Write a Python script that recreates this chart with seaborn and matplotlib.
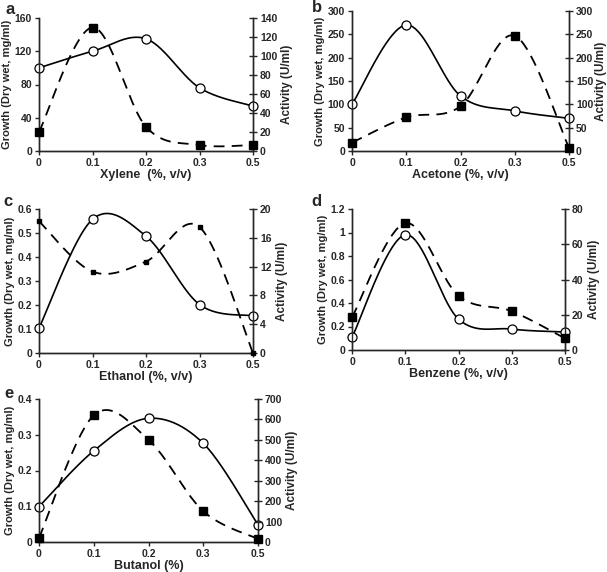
import numpy as np
import matplotlib
matplotlib.use("Agg")
import matplotlib.pyplot as plt
import seaborn as sns
from matplotlib.ticker import FuncFormatter

sns.set_style("ticks")
plt.rcParams['font.family'] = ['Liberation Sans', 'DejaVu Sans']
plt.rcParams['font.weight'] = 'bold'

# solvent concentrations (categorical x axis)
conc = ['0', '0.1', '0.2', '0.3', '0.5']

# growth (left axis) and activity (right axis) per panel
xylene_growth = [100, 120, 135, 76, 54]
xylene_activity = [20, 130, 25.5, 6.3, 6.3]
acetone_growth = [100, 270, 118, 86, 70]
acetone_activity = [18, 72, 96, 247, 7]
ethanol_growth = [0.104, 0.557, 0.487, 0.202, 0.155]
ethanol_activity = [18.3, 11.3, 12.7, 17.5, 0]
benzene_growth = [0.108, 0.98, 0.263, 0.178, 0.153]
benzene_activity = [18.5, 72, 30.8, 22, 6.6]
butanol_growth = [0.099, 0.255, 0.346, 0.276, 0.048]
butanol_activity = [20, 620, 500, 151, 15]


def smooth(y, n=40):
    # Excel-style smoothed line through the points (bezier, 1/6 tension)
    x = np.arange(len(y), dtype=float)
    y = np.asarray(y, float)
    px = np.r_[x[0], x, x[-1]]
    py = np.r_[y[0], y, y[-1]]
    t = np.linspace(0, 1, n)
    xs, ys = [], []
    for i in range(1, len(px) - 2):
        for p, out in ((px, xs), (py, ys)):
            b0 = p[i]
            b1 = p[i] + (p[i + 1] - p[i - 1]) / 6
            b2 = p[i + 1] - (p[i + 2] - p[i]) / 6
            b3 = p[i + 1]
            out.extend((1 - t) ** 3 * b0 + 3 * (1 - t) ** 2 * t * b1
                       + 3 * (1 - t) * t ** 2 * b2 + t ** 3 * b3)
    return np.array(xs), np.array(ys)


W, H = 607, 572
fig = plt.figure(figsize=(W / 100, H / 100), dpi=100)


def rect(l, r, t, b):
    return [l / W, (H - b) / H, (r - l) / W, (b - t) / H]


def panel(box, letter, letter_xy, growth, activity, gmax, gstep, amax, astep,
          xlabel, sq=6, rpad=3):
    ax = fig.add_axes(rect(*box))
    ax2 = ax.twinx()
    pos = np.arange(len(conc))

    sx, sy = smooth(growth)
    sns.lineplot(x=sx, y=sy, ax=ax, sort=False, estimator=None,
                 color='black', lw=1.2)
    ax.plot(pos, growth, 'o', ms=6.5, mfc='white', mec='black', mew=0.9,
            clip_on=False, zorder=5)

    sx, sy = smooth(activity)
    sns.lineplot(x=sx, y=sy, ax=ax2, sort=False, estimator=None,
                 color='black', lw=1.3, linestyle=(0, (6, 4)))
    ax2.plot(pos, activity, 's', ms=sq, mfc='black', mec='black',
             clip_on=False, zorder=5)

    ax.set_xlim(0, len(conc) - 1)
    ax.set_xticks(pos)
    ax.set_xticklabels(conc)
    ax.set_ylim(0, gmax)
    ax.set_yticks(np.arange(0, gmax + gstep / 2, gstep))
    ax.yaxis.set_major_formatter(FuncFormatter(lambda v, p: '%g' % round(v, 3)))
    ax2.set_ylim(0, amax)
    ax2.set_yticks(np.arange(0, amax + astep / 2, astep))

    for a in (ax, ax2):
        a.spines['top'].set_visible(False)
        for s in ('left', 'bottom', 'right'):
            a.spines[s].set_linewidth(1.0)
    ax.tick_params(axis='both', labelsize=7.5, length=3, width=1, pad=2)
    ax2.tick_params(axis='y', labelsize=7.5, length=6, width=1,
                    direction='inout', pad=2)
    for lab in ax.get_xticklabels() + ax.get_yticklabels() + ax2.get_yticklabels():
        lab.set_fontweight('bold')

    ax.set_xlabel(xlabel, fontsize=9, fontweight='bold', labelpad=1)
    ax.set_ylabel('Growth (Dry wet, mg/ml)', fontsize=8, fontweight='bold',
                  labelpad=2)
    ax2.set_ylabel('Activity (U/ml)', fontsize=8.5, fontweight='bold',
                   labelpad=rpad)
    fig.text(letter_xy[0] / W, 1 - letter_xy[1] / H, letter, fontsize=12,
             fontweight='bold', ha='center', va='center')
    return ax


panel((39, 253, 18, 151), 'a', (10, 9), xylene_growth, xylene_activity,
      160, 40, 140, 20, 'Xylene  (%, v/v)')
panel((352, 569, 11, 151), 'b', (317, 8), acetone_growth, acetone_activity,
      300, 50, 300, 50, 'Acetone (%, v/v)', rpad=1)
panel((39, 253, 209, 353), 'c', (8, 202), ethanol_growth, ethanol_activity,
      0.6, 0.1, 20, 4, 'Ethanol (%, v/v)', sq=3.5)
panel((352, 565, 209, 350), 'd', (316, 202), benzene_growth, benzene_activity,
      1.2, 0.2, 80, 20, 'Benzene (%, v/v)')
panel((39, 258, 399, 542), 'e', (9, 393), butanol_growth, butanol_activity,
      0.4, 0.1, 700, 100, 'Butanol (%)')

fig.savefig('out.png', dpi=100)
